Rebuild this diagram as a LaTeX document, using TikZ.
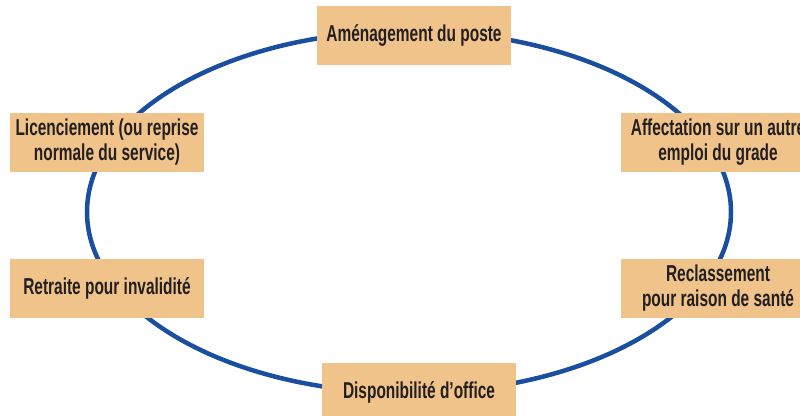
\documentclass[tikz,border=0pt]{standalone}
\usepackage{fontspec}
\newfontfamily\condfont{Liberation Sans}[FakeStretch=0.672]
\definecolor{boxfill}{HTML}{F0C38B}
\definecolor{ringblue}{HTML}{1A4F9F}
\definecolor{txt}{HTML}{231F20}
\tikzset{
  stage/.style={rectangle, fill=boxfill, minimum width=194pt, minimum height=59pt,
    inner sep=0pt, align=center, text=txt,
    font=\condfont\bfseries\fontsize{23}{25}\selectfont},
  ring/.style={draw=ringblue, line width=4.5pt}
}
\begin{document}
\begin{tikzpicture}[x=1pt,y=1pt]
\useasboundingbox (0,0) rectangle (800,415);
\draw[ring] (409,203) ellipse [x radius=322, y radius=181];
\node[stage] (amen) at (414,379.5) {Aménagement du poste};
\node[stage] (lic) at (107,272.5) {Licenciement (ou reprise\\normale du service)};
\node[stage] (aff) at (718,272.5) {Affectation sur un autre\\emploi du grade};
\node[stage] (ret) at (107,126.5) {Retraite pour invalidité};
\node[stage] (rec) at (718,126.5) {Reclassement\\pour raison de santé};
\node[stage] (dis) at (419,22.5) {Disponibilité d’office};
\end{tikzpicture}
\end{document}
